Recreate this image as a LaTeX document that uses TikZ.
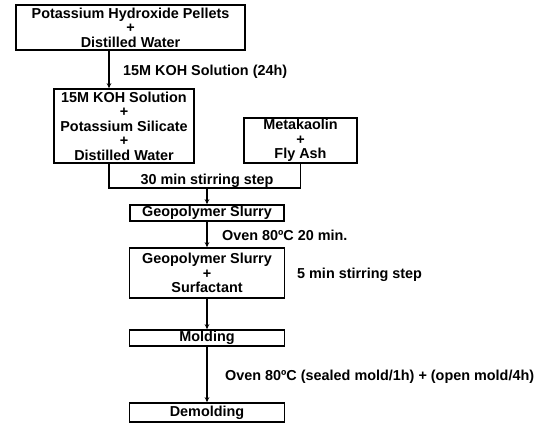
\documentclass[tikz,border=0pt]{standalone}
\usepackage{fontspec}
\setmainfont{Liberation Sans}
\usetikzlibrary{arrows.meta}
\tikzset{
	stepbox/.style={draw, line width=1.6pt, inner sep=0pt, align=center, font=\fontsize{14.4}{14.5}\selectfont\bfseries},
	arr/.style={line width=1.2pt, -{Stealth[length=5pt,width=4.5pt]}},
	lbl/.style={font=\fontsize{14.4}{14.5}\selectfont\bfseries, inner sep=0pt}
}

\begin{document}
\begin{tikzpicture}[x=1pt, y=-1pt]
		%%%%% START %%%%%
		\useasboundingbox (0, 0) rectangle (549, 434);
		
		\node[stepbox, minimum width=229pt, minimum height=45pt] (pellets) at (130.5, 27.5) {Potassium Hydroxide Pellets\\+\\Distilled Water};
		\node[stepbox, minimum width=140pt, minimum height=74pt] (koh) at (124, 126) {15M KOH Solution\\+\\Potassium Silicate\\+\\Distilled Water};
		\node[stepbox, minimum width=113pt, minimum height=45pt] (meta) at (300.5, 140.5) {Metakaolin\\+\\Fly Ash};
		
		\coordinate (split) at (109, 188);
		\coordinate (mix) at (207, 188);
		
		\node[stepbox, minimum width=154pt, minimum height=16pt] (slurry) at (207, 213) {Geopolymer Slurry};
		\node[stepbox, minimum width=155pt, minimum height=50pt] (surf) at (207, 273) {Geopolymer Slurry\\+\\Surfactant};
		\node[stepbox, minimum width=155pt, minimum height=16pt] (mold) at (207, 338) {Molding};
		\node[stepbox, minimum width=155pt, minimum height=19pt] (demold) at (207, 412.5) {Demolding};
		
		\draw[arr] (pellets.south -| split) -- (koh.north -| split);
		\node[lbl, anchor=west] (koh24) at (123, 72) {15M KOH Solution (24h)};
		
		\draw[line width=1.2pt] (koh.south -| split) -- (split) -- (split -| meta.south) -- (meta.south);
		\node[lbl] (stir30) at (207, 181) {30 min stirring step};
		\draw[arr] (mix) -- (slurry.north);
		
		\draw[arr] (slurry.south) -- (surf.north);
		\node[lbl, anchor=west] (oven20) at (222, 235) {Oven 80ºC 20 min.};
		\node[lbl, anchor=west] (stir5) at (297, 275) {5 min stirring step};
		
		\draw[arr] (surf.south) -- (mold.north);
		\draw[arr] (mold.south) -- (demold.north);
		\node[lbl, anchor=west] (oven4) at (225, 377) {Oven 80ºC (sealed mold/1h) + (open mold/4h)};
		%%%%% END %%%%%
\end{tikzpicture}
\end{document}
